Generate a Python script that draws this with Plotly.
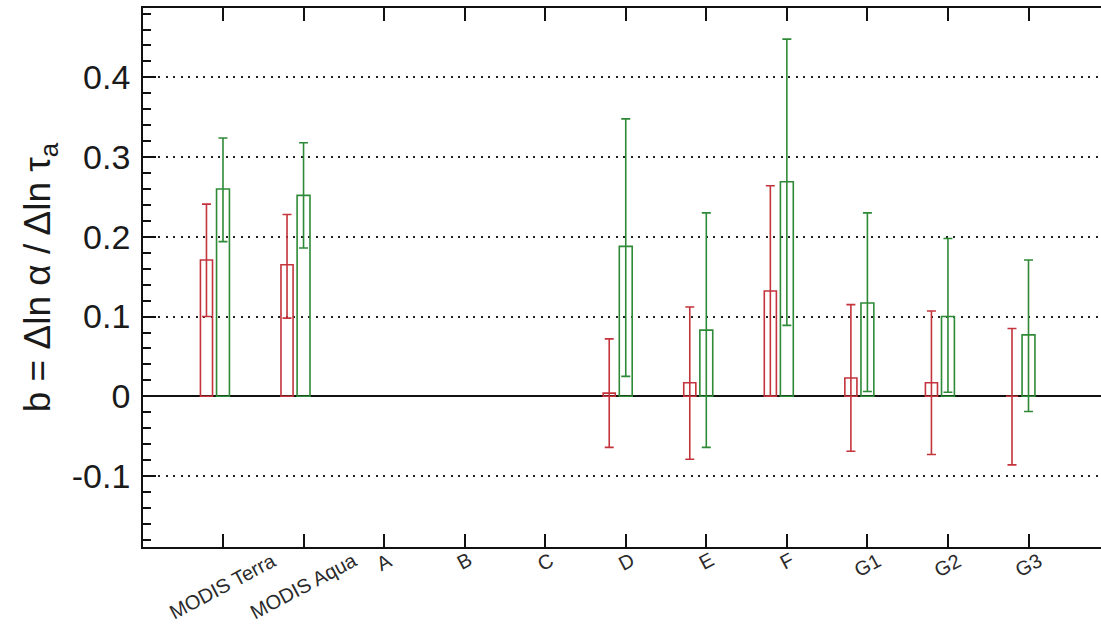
import plotly.graph_objects as go

# ---------------- data ----------------
categories = ["MODIS Terra", "MODIS Aqua", "A", "B", "C", "D", "E", "F", "G1", "G2", "G3"]

red_value = [0.171, 0.165, None, None, None, 0.004, 0.017, 0.132, 0.023, 0.017, 0.0]
red_upper = [0.241, 0.228, None, None, None, 0.072, 0.112, 0.264, 0.115, 0.107, 0.085]
red_lower = [0.100, 0.098, None, None, None, -0.064, -0.079, 0.000, -0.069, -0.073, -0.086]

green_value = [0.260, 0.252, None, None, None, 0.188, 0.083, 0.269, 0.117, 0.100, 0.077]
green_upper = [0.324, 0.318, None, None, None, 0.348, 0.230, 0.448, 0.230, 0.198, 0.171]
green_lower = [0.194, 0.186, None, None, None, 0.025, -0.064, 0.089, 0.006, 0.005, -0.019]

y_tickvals = [-0.1, 0, 0.1, 0.2, 0.3, 0.4]
y_ticktext = ["-0.1", "0", "0.1", "0.2", "0.3", "0.4"]

RED = "#c3343c"
GREEN = "#2f8a37"
FONT = "Liberation Sans, Arial, sans-serif"


def plus_minus(vals, up, lo):
    p, m = [], []
    for v, u, l in zip(vals, up, lo):
        if v is None:
            p.append(None)
            m.append(None)
        else:
            p.append(u - v)
            m.append(v - l)
    return p, m


rp, rm = plus_minus(red_value, red_upper, red_lower)
gp, gm = plus_minus(green_value, green_upper, green_lower)

fig = go.Figure()
fig.add_trace(go.Bar(
    x=categories, y=red_value, width=0.15, offset=-0.28,
    marker=dict(color="rgba(0,0,0,0)", line=dict(color=RED, width=1.6)),
    error_y=dict(type="data", symmetric=False, array=rp, arrayminus=rm,
                 color=RED, thickness=1.6, width=4.5),
    showlegend=False,
))
fig.add_trace(go.Bar(
    x=categories, y=green_value, width=0.16, offset=-0.08,
    marker=dict(color="rgba(0,0,0,0)", line=dict(color=GREEN, width=1.6)),
    error_y=dict(type="data", symmetric=False, array=gp, arrayminus=gm,
                 color=GREEN, thickness=1.6, width=4.5),
    showlegend=False,
))

# rotated category labels, centred on each tick
for c in categories:
    fig.add_annotation(
        x=c, xref="x", y=0, yref="paper", yanchor="top", xanchor="center",
        yshift=1, text=c, textangle=-28, showarrow=False,
        font=dict(family=FONT, size=20, color="#2a2a2a"),
    )

fig.update_layout(
    width=1101, height=628,
    margin=dict(l=143, r=0, t=8, b=81),
    paper_bgcolor="white", plot_bgcolor="white",
    barmode="overlay",
    font=dict(family=FONT, color="#222"),
    xaxis=dict(
        type="category", range=[-0.993, 10.9],
        showline=True, linecolor="#111", linewidth=1.6, mirror="ticks",
        ticks="inside", ticklen=13, tickwidth=1.6, tickcolor="#111",
        showticklabels=False, showgrid=False, zeroline=False,
    ),
    yaxis=dict(
        range=[-0.189, 0.487],
        tickvals=y_tickvals, ticktext=y_ticktext,
        showline=True, linecolor="#111", linewidth=1.8,
        ticks="inside", ticklen=13, tickwidth=1.6, tickcolor="#111",
        tickfont=dict(family=FONT, size=34, color="#1a1a1a"),
        ticklabelstandoff=4,
        minor=dict(dtick=0.02, ticks="inside", ticklen=8, tickwidth=1.5,
                   tickcolor="#111", showgrid=False),
        showgrid=True, gridcolor="#222", gridwidth=1.5, griddash="2px,5.5px",
        zeroline=True, zerolinecolor="#111", zerolinewidth=1.5,
        title=dict(text="b = \u0394ln \u03b1 / \u0394ln \u03c4<sub>a</sub>",
                   font=dict(family=FONT, size=37, color="#1a1a1a"), standoff=10),
        automargin=False,
    ),
    yaxis2=dict(
        overlaying="y", side="right", anchor="x",
        range=[-0.189, 0.487], tickvals=y_tickvals,
        ticks="inside", ticklen=8, tickwidth=1.6, tickcolor="#111",
        showticklabels=False, showline=False, showgrid=False, zeroline=False,
    ),
)

fig.write_html(
    "out.html",
    config={"displayModeBar": False},
    post_script="document.body.style.margin='0';document.body.style.overflow='hidden';",
)
